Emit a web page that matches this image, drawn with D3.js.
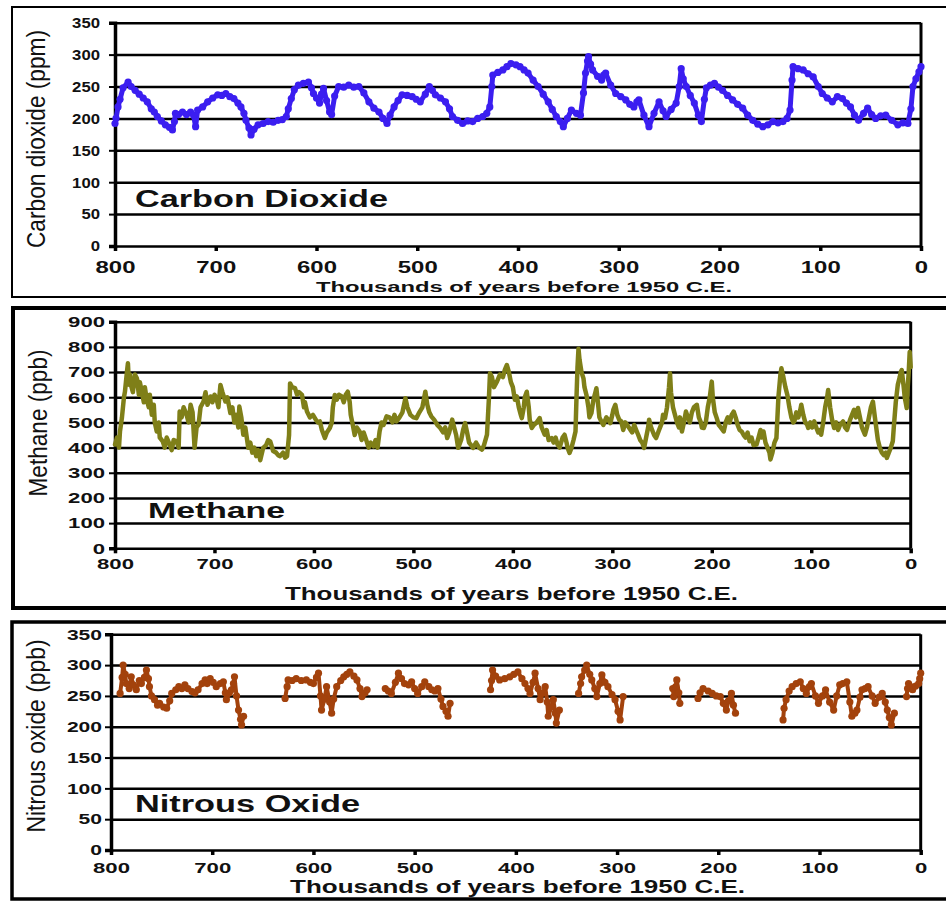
<!DOCTYPE html>
<html>
<head>
<meta charset="utf-8">
<script src="https://cdn.jsdelivr.net/npm/d3@7"></script>
<style>
  body { margin: 0; background: #fff; }
  svg { display: block; font-family: "Liberation Sans", Arial, sans-serif; }
</style>
</head>
<body>
<script>
// ages in thousands of years before 1950
var xTicks = [800, 700, 600, 500, 400, 300, 200, 100, 0];
var co2Ticks = [0, 50, 100, 150, 200, 250, 300, 350];
var ch4Ticks = [0, 100, 200, 300, 400, 500, 600, 700, 800, 900];
var n2oTicks = [0, 50, 100, 150, 200, 250, 300, 350];

var co2 = [[800,192],[799,200],[797,218],[795,230],[792,248],[787,257],[784,250],[780,244],[776,238],[772,232],
  [768,226],[764,215],[761,210],[758,203],[754,196],[750,190],[746,186],[743,182],[741,195],[740,208],
  [737,206],[733,210],[729,206],[725,210],[722,205],[720,187],[718,213],[713,218],[708,226],[703,232],
  [698,237],[694,236],[690,239],[686,234],[682,231],[678,224],[675,218],[672,208],[670,197],[667,185],
  [665,174],[662,183],[658,190],[653,192],[648,195],[643,194],[638,197],[634,198],[630,203],[628,215],
  [625,231],[622,245],[618,252],[613,255],[608,257],[605,248],[603,239],[600,232],[597,224],[595,238],
  [593,247],[590,228],[587,210],[585,206],[582,235],[578,250],[573,249],[568,252],[563,249],[558,250],
  [553,240],[548,226],[543,216],[538,210],[534,200],[530,192],[527,205],[523,218],[519,228],[515,237],
  [510,236],[505,234],[501,230],[497,226],[492,238],[488,250],[485,244],[482,237],[477,232],[472,226],
  [468,215],[465,203],[460,197],[455,192],[450,196],[445,195],[440,200],[435,203],[431,208],[428,218],
  [426,250],[425,268],[420,272],[415,276],[411,281],[407,286],[402,284],[398,281],[394,276],[390,271],
  [385,260],[380,250],[375,238],[370,226],[366,214],[362,203],[358,195],[355,187],[351,200],[347,213],
  [342,208],[338,205],[335,240],[333,271],[331,290],[330,297],[328,285],[326,276],[321,266],[317,260],
  [315,268],[313,271],[308,252],[303,239],[298,234],[293,229],[289,222],[285,218],[282,226],[280,229],
  [275,205],[270,187],[265,208],[260,226],[256,212],[253,203],[248,214],[243,224],[240,250],[238,278],
  [236,262],[233,250],[229,236],[225,224],[221,205],[218,195],[215,230],[213,248],[209,252],[205,255],
  [201,249],[197,244],[192,236],[187,229],[182,222],[177,216],[172,205],[167,197],[162,191],[157,187],
  [152,190],[147,195],[142,193],[137,195],[133,200],[130,213],[128,260],[127,281],[122,278],[117,276],
  [112,270],[107,265],[102,250],[98,239],[93,232],[88,226],[83,234],[78,231],[74,224],[70,218],
  [66,205],[62,197],[57,208],[53,216],[49,206],[45,200],[40,204],[35,205],[29,197],[23,190],
  [18,193],[13,192],[10,215],[8,250],[5,262],[2,273],[0,281]];

var ch4 = [[800,412],[798,440],[796,400],[795,464],[793,520],[791,600],[790,622],[788,700],[787,735],[786,650],
  [785,690],[784,649],[782,620],[780,690],[778,675],[776,610],[775,660],[773,622],[771,580],[770,640],
  [768,589],[766,560],[765,610],[763,530],[761,570],[760,500],[758,464],[756,500],[755,440],[752,425],
  [750,400],[748,440],[745,412],[743,390],[741,430],[738,425],[736,400],[735,543],[733,520],[731,560],
  [728,530],[726,500],[724,570],[722,540],[720,399],[718,480],[716,491],[714,560],[711,583],[709,620],
  [707,570],[704,603],[702,580],[700,610],[698,596],[696,560],[694,649],[692,620],[689,583],[687,600],
  [684,537],[682,560],[680,500],[678,530],[676,480],[675,563],[673,520],[671,451],[669,480],[666,399],
  [664,420],[662,380],[660,400],[658,366],[656,390],[654,350],[651,399],[648,410],[646,430],[644,425],
  [642,400],[641,386],[638,380],[636,370],[634,366],[631,380],[629,360],[627,366],[625,450],[624,655],
  [622,640],[619,636],[617,610],[615,620],[612,609],[610,560],[609,580],[607,543],[604,520],[601,530],
  [598,510],[596,500],[594,504],[592,470],[589,438],[587,460],[584,478],[582,500],[581,560],[579,609],
  [577,590],[575,610],[572,603],[570,580],[568,610],[566,622],[564,580],[563,530],[561,491],[559,450],
  [557,480],[554,464],[552,430],[550,460],[547,425],[545,400],[543,420],[540,405],[538,430],[536,400],
  [534,464],[532,500],[530,490],[527,524],[524,520],[521,500],[519,530],[517,504],[514,520],[511,540],
  [508,596],[506,560],[503,530],[500,520],[497,517],[494,540],[491,560],[488,622],[486,570],[484,540],
  [482,524],[479,510],[476,490],[473,478],[470,460],[468,480],[466,438],[464,460],[461,511],[459,480],
  [457,450],[455,399],[452,430],[450,470],[448,497],[446,460],[444,420],[442,410],[440,399],[437,420],
  [434,400],[431,392],[429,410],[426,451],[424,600],[423,695],[421,680],[419,640],[416,662],[413,690],
  [410,680],[408,710],[406,728],[404,700],[402,660],[400,640],[398,590],[396,603],[394,560],[392,530],
  [391,517],[389,560],[388,600],[386,622],[384,560],[383,510],[381,478],[379,490],[376,500],[373,517],
  [371,480],[368,451],[366,470],[364,430],[361,438],[359,420],[357,440],[355,412],[353,400],[350,440],
  [348,451],[346,420],[345,400],[343,379],[341,400],[339,430],[337,464],[336,600],[335,720],[334,793],
  [333,750],[331,700],[329,675],[328,640],[326,609],[324,560],[323,520],[321,537],[319,590],[317,620],
  [316,636],[314,560],[313,520],[311,504],[309,490],[306,520],[304,510],[302,497],[300,530],[299,550],
  [297,570],[295,530],[293,510],[291,504],[289,470],[287,500],[285,490],[283,478],[280,460],[278,490],
  [276,470],[274,451],[272,430],[270,420],[268,399],[266,440],[264,480],[263,511],[261,480],[258,450],
  [256,438],[253,470],[250,500],[249,530],[247,517],[245,560],[243,640],[242,695],[241,620],[239,560],
  [237,530],[235,500],[233,480],[232,520],[230,464],[228,500],[226,543],[224,520],[222,500],[220,540],
  [218,560],[215,570],[213,520],[211,500],[210,480],[208,478],[206,500],[204,560],[202,600],[200,662],
  [199,600],[197,540],[195,517],[193,490],[191,480],[188,464],[186,500],[184,520],[182,500],[180,530],
  [178,543],[176,520],[174,490],[172,470],[170,464],[168,450],[166,440],[164,460],[162,425],[160,440],
  [158,410],[155,412],[153,440],[151,470],[150,440],[148,464],[146,420],[144,400],[142,380],[141,353],
  [139,380],[137,420],[135,438],[133,600],[131,690],[130,715],[128,680],[126,640],[124,609],[122,560],
  [120,520],[118,500],[117,504],[115,540],[113,520],[111,550],[110,570],[108,530],[106,500],[104,490],
  [103,478],[101,500],[99,480],[97,504],[95,480],[93,460],[91,470],[90,451],[88,500],[86,560],
  [84,600],[83,629],[81,560],[79,510],[77,478],[75,500],[73,470],[71,490],[68,504],[66,480],
  [64,470],[61,510],[59,530],[57,550],[55,520],[53,557],[51,520],[49,480],[48,470],[46,451],
  [44,480],[42,520],[40,560],[38,583],[36,520],[34,460],[33,430],[31,399],[29,380],[27,370],
  [25,380],[24,359],[22,380],[20,400],[18,425],[17,480],[15,580],[13,649],[11,680],[10,700],
  [9,708],[7,640],[6,600],[4,557],[3,640],[2,700],[1,780],[0,720]];

// null = gap in the record
var n2o = [[791,254],[789,280],[788,300],[786,285],[785,270],[782,262],[780,281],[778,268],[775,260],[772,275],
  [770,270],[767,280],[765,292],[763,278],[762,265],[760,250],[757,244],[754,235],[752,238],[748,232],
  [745,230],[742,242],[740,254],[736,260],[733,265],[730,262],[727,268],[724,262],[720,257],[717,255],
  [714,260],[710,270],[707,276],[705,270],[702,278],[699,272],[696,265],[692,270],[689,273],[687,255],
  [686,244],[683,255],[681,260],[679,270],[678,281],[676,250],[674,227],[672,212],[671,203],[669,217],[650,null],
  [628,246],[626,265],[625,276],[621,275],[617,278],[612,275],[607,276],[603,272],[600,270],[597,280],
  [595,287],[593,250],[592,227],[589,245],[587,265],[584,240],[582,222],[580,245],[577,265],[573,275],
  [570,281],[567,285],[564,289],[560,282],[557,276],[554,262],[552,249],[549,255],[547,260],[540,null],
  [529,262],[526,258],[523,254],[519,272],[516,287],[513,278],[510,270],[506,268],[503,273],[500,262],
  [497,254],[493,265],[490,273],[486,265],[483,260],[480,258],[477,262],[474,245],[472,233],[469,225],
  [467,217],[465,238],[445,null],
  [425,260],[424,275],[423,292],[420,282],[416,276],[411,278],[406,281],[402,285],[398,289],[394,278],
  [391,270],[388,262],[386,254],[383,272],[381,287],[378,262],[376,244],[373,255],[371,265],[369,240],
  [368,217],[365,232],[363,244],[361,222],[360,206],[357,227],[348,null],
  [338,254],[336,270],[335,281],[332,292],[330,300],[327,285],[325,276],[322,262],[320,249],[317,270],
  [315,284],[312,272],[309,265],[305,252],[302,244],[299,225],[297,211],[294,249],[270,null],
  [245,262],[244,249],[242,265],[241,276],[239,255],[238,238],[230,null],
  [220,246],[218,255],[215,262],[210,258],[206,254],[202,250],[198,249],[195,238],[192,227],[190,242],
  [187,254],[185,235],[183,222],[160,null],
  [136,211],[135,230],[133,244],[130,258],[127,265],[123,270],[119,273],[116,262],[113,254],[110,265],
  [108,270],[104,250],[101,238],[97,250],[94,260],[90,240],[86,227],[83,250],[80,268],[77,270],
  [73,273],[70,240],[68,217],[65,222],[63,227],[60,248],[58,260],[55,262],[52,265],[48,250],
  [45,238],[41,248],[38,254],[35,240],[33,227],[31,215],[29,203],[26,222],[20,null],
  [14,249],[13,262],[12,270],[10,265],[8,260],[5,266],[2,270],[1,278],[0,287]];

var svg = d3.select("body").append("svg")
  .attr("width", 946)
  .attr("height", 901);

var panels = [
  { data: co2, ticks: co2Ticks, max: 350, color: "#3b1ef0", markers: true, lw: 5, r: 3.6,
    frame: [12, 7, 950, 297, 2], left: 115, right: 921, top: 22.7, bottom: 246,
    yLab: { pad: 9, cw: 9.3, size: 15 }, xLab: { base: 27, cw: 13.3, size: 16 },
    xTitle: { x: 316, y: 292, len: 416, size: 14 },
    yTitle: { text: "Carbon dioxide (ppm)", x: 45, y: 139, len: 218, size: 25 },
    name: { text: "Carbon Dioxide", x: 135, y: 207, len: 253, size: 23 } },
  { data: ch4, ticks: ch4Ticks, max: 900, color: "#7f7f18", markers: false, lw: 4.5, r: 0,
    frame: [13, 308, 950, 608, 4], left: 115, right: 910.7, top: 321.7, bottom: 548.3,
    yLab: { pad: 4, cw: 12.3, size: 15 }, xLab: { base: 21, cw: 12.3, size: 15 },
    xTitle: { x: 285, y: 600, len: 453, size: 19 },
    yTitle: { text: "Methane (ppb)", x: 47, y: 423, len: 147, size: 26 },
    name: { text: "Methane", x: 148, y: 518, len: 137, size: 22 } },
  { data: n2o, ticks: n2oTicks, max: 350, color: "#a3420c", markers: true, lw: 4, r: 3.6,
    frame: [12, 622, 950, 899, 3.5], left: 111, right: 920.7, top: 634.3, bottom: 850,
    yLab: { pad: 3, cw: 11.7, size: 15 }, xLab: { base: 23, cw: 12.3, size: 15 },
    xTitle: { x: 290, y: 893, len: 455, size: 18 },
    yTitle: { text: "Nitrous oxide (ppb)", x: 45, y: 736, len: 193, size: 25 },
    name: { text: "Nitrous Oxide", x: 135, y: 812, len: 225, size: 23 } }
];

panels.forEach(function(p) {
  var g = svg.append("g");

  // outer box
  g.append("rect")
    .attr("x", p.frame[0]).attr("y", p.frame[1])
    .attr("width", p.frame[2] - p.frame[0]).attr("height", p.frame[3] - p.frame[1])
    .attr("fill", "none").attr("stroke", "#000").attr("stroke-width", p.frame[4]);

  var x = d3.scaleLinear().domain([800, 0]).range([p.left, p.right]);
  var y = d3.scaleLinear().domain([0, p.max]).range([p.bottom, p.top]);
  var w = p.right - p.left;

  // grid lines
  var grid = g.append("g")
    .attr("transform", "translate(" + p.left + ",0)")
    .call(d3.axisLeft(y).tickValues(p.ticks).tickSize(-w).tickFormat(""));
  grid.select(".domain").remove();
  grid.selectAll("line").attr("stroke", "#000").attr("stroke-width", 2.5);

  // y axis with labels
  var ya = g.append("g")
    .attr("transform", "translate(" + p.left + ",0)")
    .call(d3.axisLeft(y).tickValues(p.ticks).tickSize(6).tickPadding(p.yLab.pad));
  ya.select(".domain").attr("stroke", "#000").attr("stroke-width", 3.5);
  ya.selectAll("line").attr("stroke", "#000").attr("stroke-width", 2);
  ya.selectAll("text")
    .attr("fill", "#111")
    .style("font-size", p.yLab.size + "px").style("font-weight", "bold")
    .attr("textLength", function(d) { return String(d).length * p.yLab.cw; })
    .attr("lengthAdjust", "spacingAndGlyphs");

  // right border
  g.append("line")
    .attr("x1", p.right).attr("x2", p.right)
    .attr("y1", y(p.max)).attr("y2", y(0))
    .attr("stroke", "#000").attr("stroke-width", 3);

  // x axis
  var xa = g.append("g")
    .attr("transform", "translate(0," + p.bottom + ")")
    .call(d3.axisBottom(x).tickValues(xTicks).tickSize(5));
  xa.select(".domain").remove();
  xa.selectAll("line").attr("stroke", "#000").attr("stroke-width", 3.5);
  xa.selectAll("text")
    .attr("y", p.xLab.base).attr("dy", null)
    .attr("fill", "#111")
    .style("font-size", p.xLab.size + "px").style("font-weight", "bold")
    .attr("textLength", function(d) { return String(d).length * p.xLab.cw; })
    .attr("lengthAdjust", "spacingAndGlyphs");

  // axis titles
  g.append("text")
    .attr("x", p.xTitle.x).attr("y", p.xTitle.y)
    .attr("textLength", p.xTitle.len).attr("lengthAdjust", "spacingAndGlyphs")
    .style("font-size", p.xTitle.size + "px").style("font-weight", "bold")
    .attr("fill", "#111")
    .text("Thousands of years before 1950 C.E.");

  g.append("text")
    .attr("transform", "translate(" + p.yTitle.x + "," + p.yTitle.y + ") rotate(-90)")
    .attr("text-anchor", "middle")
    .attr("textLength", p.yTitle.len).attr("lengthAdjust", "spacingAndGlyphs")
    .style("font-size", p.yTitle.size + "px")
    .attr("fill", "#111")
    .text(p.yTitle.text);

  g.append("text")
    .attr("x", p.name.x).attr("y", p.name.y)
    .attr("textLength", p.name.len).attr("lengthAdjust", "spacingAndGlyphs")
    .style("font-size", p.name.size + "px").style("font-weight", "bold")
    .attr("fill", "#111")
    .text(p.name.text);

  // the record itself
  var line = d3.line()
    .defined(function(d) { return d[1] != null; })
    .x(function(d) { return x(d[0]); })
    .y(function(d) { return y(d[1]); });

  g.append("path")
    .datum(p.data)
    .attr("d", line)
    .attr("fill", "none")
    .attr("stroke", p.color)
    .attr("stroke-width", p.lw)
    .attr("stroke-linejoin", "round")
    .attr("stroke-linecap", "round");

  if (p.markers) {
    g.selectAll("circle.pt")
      .data(p.data.filter(function(d) { return d[1] != null; }))
      .enter().append("circle")
      .attr("class", "pt")
      .attr("cx", function(d) { return x(d[0]); })
      .attr("cy", function(d) { return y(d[1]); })
      .attr("r", p.r)
      .attr("fill", p.color);
  }
});
</script>
</body>
</html>
